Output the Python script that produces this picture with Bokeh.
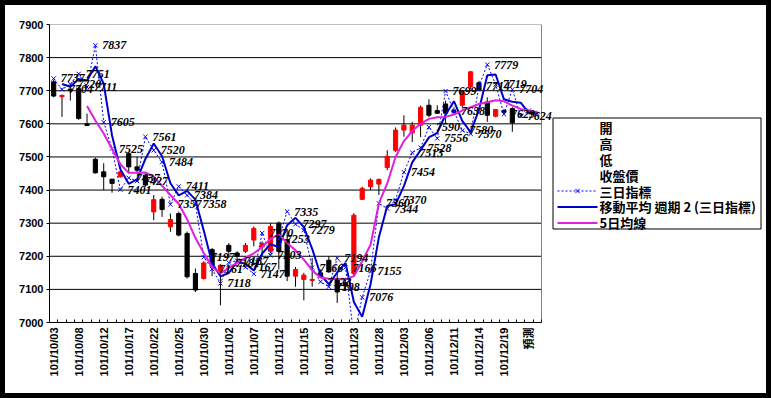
import numpy as np
import pandas as pd
from bokeh.plotting import figure
from bokeh.models import ColumnDataSource, FixedTicker, Range1d
from bokeh.core.properties import value
from bokeh.embed import file_html
from bokeh.resources import INLINE

# ---------------- data ----------------
tick_pos = [0, 3, 6, 9, 12, 15, 18, 21, 24, 27, 30, 33, 36, 39, 42, 45, 48, 51, 54, 57]
tick_labels = ["101/10/03", "101/10/08", "101/10/12", "101/10/17", "101/10/22", "101/10/25",
               "101/10/30", "101/11/02", "101/11/07", "101/11/12", "101/11/15", "101/11/20",
               "101/11/23", "101/11/28", "101/12/03", "101/12/06", "101/12/11", "101/12/14",
               "101/12/19", "預測"]
y_ticks = [7000, 7100, 7200, 7300, 7400, 7500, 7600, 7700, 7800, 7900]
legend_labels = ["開", "高", "低", "收盤價", "三日指標", "移動平均 週期 2 (三日指標)", "5日均線"]

opens = [7727, 7682, 7705, 7707, 7600, 7493, 7455, 7433, 7440, 7510, 7470, 7445, 7334, 7372,
         7289, 7329, 7269, 7148, 7133, 7220, 7153, 7233, 7210, 7215, 7249, 7228, 7215, 7300,
         7250, 7140, 7130, 7127, 7150, 7188, 7133, 7120, 7148, 7372, 7410, 7418, 7468, 7520,
         7581, 7573, 7596, 7656, 7640, 7660, 7640, 7656, 7712, 7724, 7666, 7623, 7640, 7646]
highs = [7733, 7688, 7712, 7712, 7631, 7498, 7481, 7433, 7460, 7515, 7500, 7450, 7385, 7380,
         7329, 7335, 7275, 7163, 7185, 7225, 7176, 7240, 7215, 7240, 7290, 7245, 7300, 7305,
         7280, 7168, 7150, 7195, 7160, 7200, 7150, 7135, 7330, 7410, 7435, 7435, 7520, 7589,
         7626, 7606, 7655, 7674, 7656, 7670, 7650, 7700, 7760, 7730, 7680, 7645, 7645, 7650]
lows = [7680, 7621, 7670, 7612, 7594, 7450, 7400, 7392, 7438, 7450, 7450, 7410, 7309, 7319,
        7274, 7260, 7133, 7092, 7130, 7140, 7052, 7195, 7185, 7210, 7230, 7200, 7210, 7160,
        7125, 7108, 7067, 7108, 7135, 7150, 7059, 7095, 7140, 7370, 7400, 7385, 7460, 7515,
        7561, 7545, 7560, 7620, 7630, 7600, 7630, 7650, 7705, 7700, 7606, 7620, 7630, 7576]
closes = [7684, 7686, 7700, 7616, 7595, 7452, 7440, 7420, 7455, 7470, 7460, 7415, 7371, 7341,
          7311, 7264, 7138, 7098, 7180, 7173, 7173, 7215, 7200, 7233, 7284, 7239, 7290, 7215,
          7140, 7160, 7143, 7130, 7140, 7153, 7092, 7110, 7324, 7405, 7430, 7432, 7502, 7581,
          7596, 7596, 7650, 7626, 7632, 7632, 7635, 7697, 7757, 7702, 7626, 7643, 7635, 7603]

# 三日指標 (59 points, the last ones are forecasts)
three_day = [7737, 7704, 7720, 7751, 7711, 7837, 7605, 7525, 7401, 7437, 7427, 7561, 7520, 7484,
             7357, 7411, 7384, 7358, 7197, 7161, 7118, 7181, 7187, 7167, 7147, 7270, 7203, 7253,
             7335, 7297, 7279, 7166, 7123, 7108, 7194, 7166, 6958, 7076, 7155, 7360, 7344, 7370,
             7454, 7513, 7528, 7590, 7556, 7699, 7638, 7580, 7570, 7714, 7779, 7719, 7629, 7704,
             7624, 7640, 7630]
n_labeled = 57   # data labels are shown up to 12/21 only

# 5日均線 (starts at the 5th day)
ma5 = [None, None, None, None, 7654, 7610, 7571, 7524, 7478, 7452, 7452, 7453, 7440, 7413,
       7385, 7358, 7312, 7255, 7210, 7168, 7148, 7165, 7180, 7195, 7209, 7228, 7252, 7267,
       7240, 7218, 7190, 7158, 7136, 7132, 7131, 7130, 7140, 7185, 7235, 7360, 7420, 7500,
       7548, 7578, 7600, 7615, 7620, 7621, 7628, 7640, 7650, 7660, 7665, 7671, 7668, 7655,
       7645, 7639, 7636]

# ---------------- figure / layout ----------------
n = len(three_day)
idx = np.arange(n)
x0, x1 = -0.5, n - 0.5                      # category extent of the plot area
PLOT_W, PLOT_H = 492.0, 298.0               # plot area in pixels
FRAME_L, FRAME_B = 49.0, 322.0              # page pixel of plot-area left / bottom
cat_px = PLOT_W / n
frame_w = 717                               # frame also holds the legend on the right
ymin, ymax = y_ticks[0], y_ticks[-1]


def px_x(px):
    return x0 + (px - FRAME_L) / cat_px


def px_y(py):
    return ymin + (FRAME_B - py) * (ymax - ymin) / PLOT_H


p = figure(width=771, height=398, output_backend="svg", toolbar_location=None,
           x_range=Range1d(x0, x0 + frame_w / cat_px), y_range=Range1d(ymin, ymax),
           min_border_left=44, min_border_right=771 - 44 - frame_w,
           min_border_top=19, min_border_bottom=81,
           background_fill_color="white", border_fill_color="white")
p.styles = {"border": "5px solid black"}
p.outline_line_color = None

# axes
p.yaxis.ticker = FixedTicker(ticks=y_ticks)
p.yaxis.major_label_text_font = "Liberation Sans"
p.yaxis.major_label_text_font_style = "bold"
p.yaxis.major_label_text_font_size = "11px"
p.yaxis.major_label_text_color = "black"
p.yaxis.major_tick_out = 3
p.yaxis.major_tick_in = 0
p.yaxis.minor_tick_line_color = None
p.yaxis.axis_line_color = "black"
p.yaxis.major_label_standoff = 3

minor = [k - 0.5 for k in range(n + 1)]
p.xaxis.ticker = FixedTicker(ticks=tick_pos, minor_ticks=minor)
p.xaxis.bounds = (x0, x1)
p.xaxis.major_label_overrides = {t: lab for t, lab in zip(tick_pos, tick_labels)}
p.xaxis.major_label_orientation = np.pi / 2
p.xaxis.major_label_text_font = "Liberation Sans, Noto Sans CJK TC"
p.xaxis.major_label_text_font_style = "bold"
p.xaxis.major_label_text_font_size = "11px"
p.xaxis.major_label_text_color = "black"
p.xaxis.major_tick_in = 0
p.xaxis.major_tick_out = 0
p.xaxis.minor_tick_in = 3
p.xaxis.minor_tick_out = 0
p.xaxis.minor_tick_line_color = "black"
p.xaxis.axis_line_color = "black"
p.xaxis.major_label_standoff = 5

p.xgrid.visible = False
p.ygrid.visible = False
# horizontal gridlines limited to the plot area, plus grey plot-area border (top / right)
grid_y = y_ticks[1:-1]
p.segment(x0=[x0] * len(grid_y), y0=grid_y, x1=[x1] * len(grid_y), y1=grid_y,
          line_color="black", line_width=1)
p.segment(x0=[x0, x1], y0=[ymax, ymin], x1=[x1, x1], y1=[ymax, ymax],
          line_color="#808080", line_width=1)

# ---------------- candles ----------------
m = len(opens)
cidx = np.arange(m)
cs = ColumnDataSource(dict(x=cidx, o=opens, h=highs, l=lows, c=closes))
p.segment(x0="x", y0="h", x1="x", y1="l", source=cs, line_color="black", line_width=1)
up = [i for i in range(m) if closes[i] >= opens[i]]
dn = [i for i in range(m) if closes[i] < opens[i]]
p.vbar(x=up, bottom=[opens[i] for i in up], top=[closes[i] for i in up],
       width=0.5, fill_color="#FF0000", line_color="#FF0000")
p.vbar(x=dn, bottom=[closes[i] for i in dn], top=[opens[i] for i in dn],
       width=0.5, fill_color="black", line_color="black")

# ---------------- lines ----------------
BLUE_DOT, BLUE_MA, MAGENTA = "#0000FF", "#0000CC", "#E020E0"
src3 = ColumnDataSource(dict(x=idx, y=three_day))
p.line("x", "y", source=src3, line_color=BLUE_DOT, line_width=1, line_dash="2 2")
p.scatter("x", "y", source=src3, marker="x", size=6, line_color=BLUE_DOT, line_width=1)

ma2 = pd.Series(three_day, dtype=float).rolling(2).mean()
p.line(x=idx, y=ma2.values, line_color=BLUE_MA, line_width=2)

ma5_arr = np.array([np.nan if v is None else v for v in ma5], dtype=float)
p.line(x=idx, y=ma5_arr, line_color=MAGENTA, line_width=2)

# ---------------- legend (box at page px 552..760 x 117..228) ----------------
LG_L, LG_R, LG_T, LG_B = 552.5, 760.5, 117.5, 228.5
p.quad(left=[px_x(LG_L)], right=[px_x(LG_R)], top=[px_y(LG_T)], bottom=[px_y(LG_B)],
       fill_color="white", line_color="black", line_width=1)
row_py = [126.7 + 15.95 * k for k in range(len(legend_labels))]
p.text(x=[px_x(599)] * len(legend_labels), y=[px_y(v) for v in row_py], text=legend_labels,
       text_baseline="middle", text_align="left",
       text_font=value("Noto Sans CJK TC"), text_font_style="bold",
       text_font_size="13px", text_color="black")
gx = [px_x(557), px_x(597)]
p.line(x=gx, y=[px_y(row_py[4])] * 2, line_color=BLUE_DOT, line_width=1, line_dash="2 2")
p.scatter(x=[px_x(577)], y=[px_y(row_py[4])], marker="x", size=6, line_color=BLUE_DOT, line_width=1)
p.line(x=gx, y=[px_y(row_py[5])] * 2, line_color=BLUE_MA, line_width=2)
p.line(x=gx, y=[px_y(row_py[6])] * 2, line_color=MAGENTA, line_width=2)

# data labels of 三日指標
lab = ColumnDataSource(dict(x=idx[:n_labeled], y=three_day[:n_labeled],
                            t=[str(v) for v in three_day[:n_labeled]]))
p.text("x", "y", text="t", source=lab, x_offset=7, text_baseline="middle", text_align="left",
       text_font=value("Liberation Serif"), text_font_style="bold italic",
       text_font_size="12px", text_color="black")

open("out.html", "w").write(file_html(p, INLINE))
